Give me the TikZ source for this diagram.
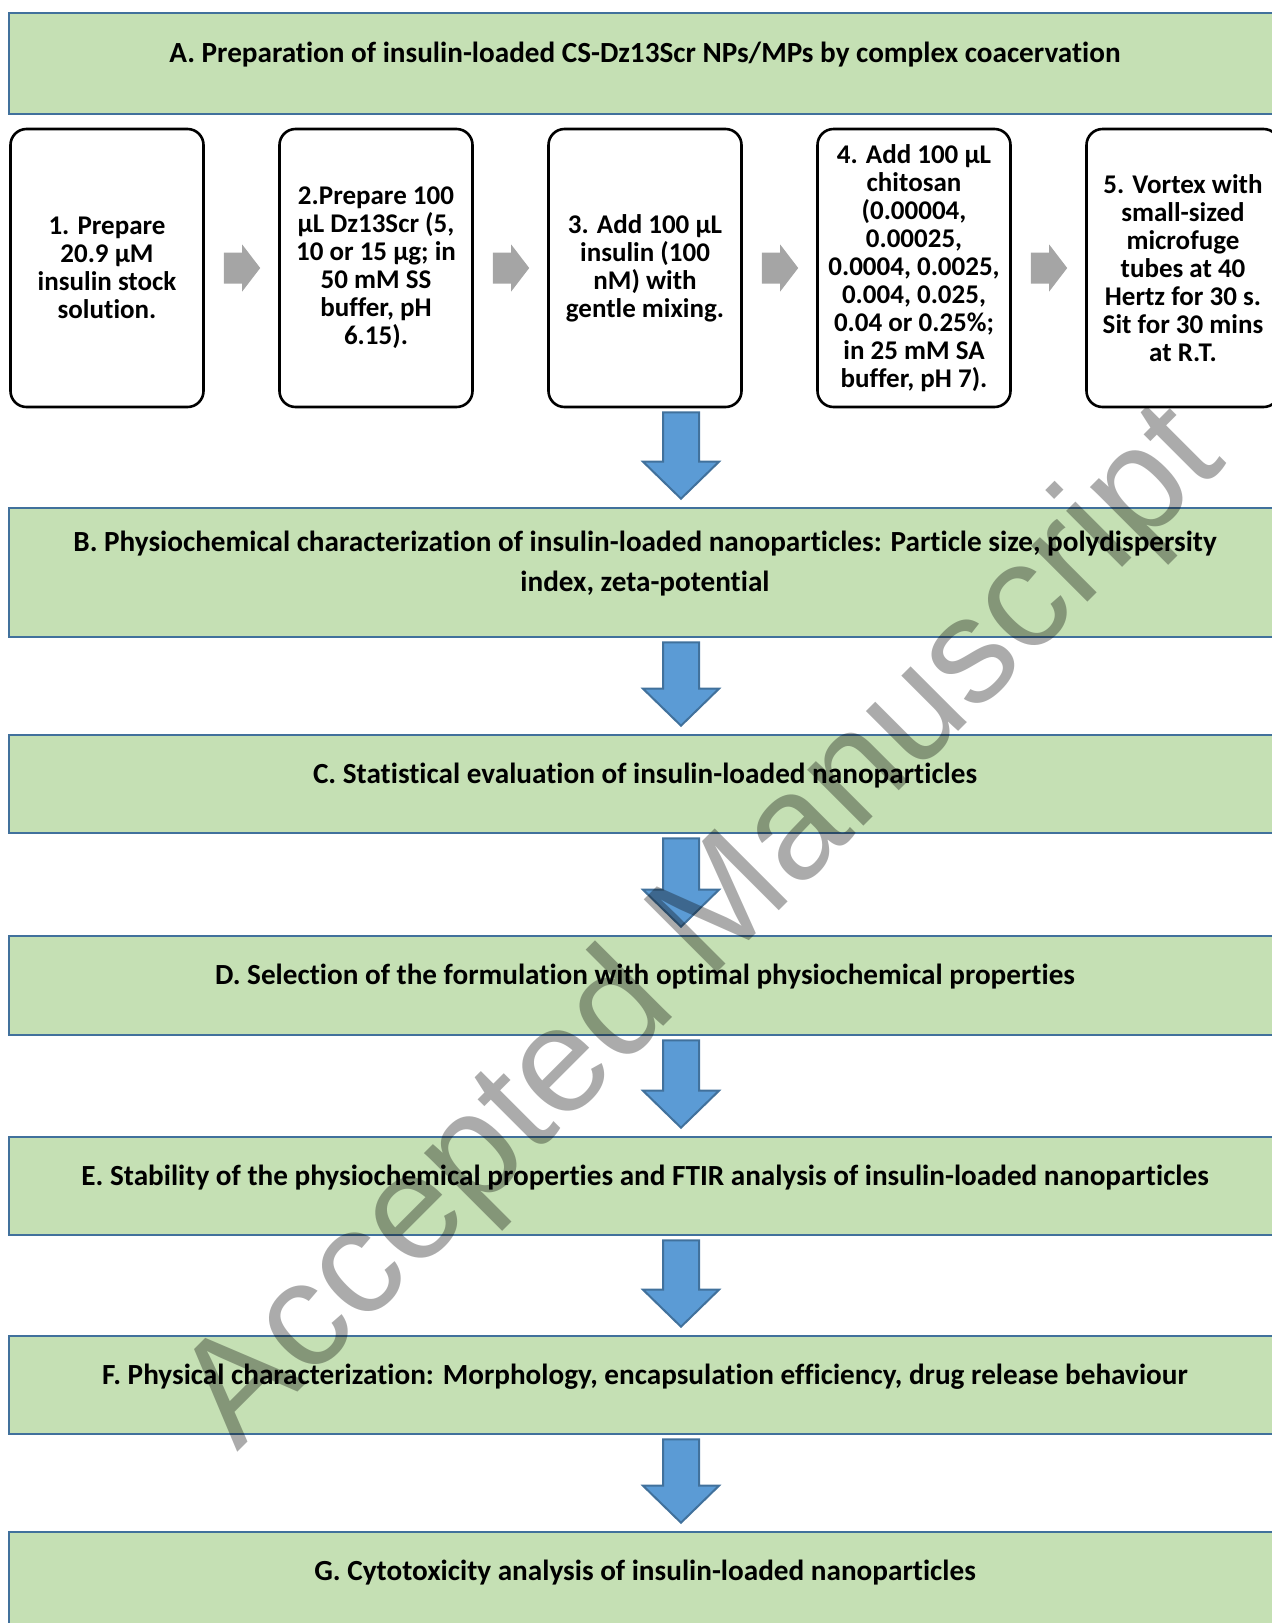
\documentclass[tikz,border=0pt]{standalone}
\usepackage{fontspec}
\setmainfont[Ligatures=NoCommon]{Carlito}
\newfontfamily\wmfont{Liberation Sans}
\usepackage{xcolor}
\definecolor{boxgreen}{HTML}{C5E0B4}
\definecolor{boxblue}{HTML}{41719C}
\definecolor{arrblue}{HTML}{5B9BD5}
\definecolor{arrgray}{HTML}{A5A5A5}
\usetikzlibrary{calc, positioning}
\tikzset{
  mainbox/.style ={rectangle, draw=boxblue, line width=1.3pt, fill=boxgreen, minimum width=636pt, inner sep=0pt},
  maintxt/.style ={font=\bfseries\fontsize{14.6}{20}\selectfont, align=center, anchor=base, inner sep=0pt},
  stepbox/.style ={rectangle, rounded corners=8pt, draw=black, line width=1.3pt, fill=white, align=center,
                   minimum width=96.5pt, minimum height=139pt, inner sep=0pt, font=\bfseries\fontsize{13.5}{14}\selectfont},
  bluearr/.style ={draw=boxblue, line width=1pt, fill=arrblue, line join=miter},
  grayarr/.style ={fill=arrgray},
  wmark/.style   ={font=\wmfont\fontsize{75}{75}\selectfont, text=black, text opacity=0.33, rotate=45,
                   anchor=base west, inner sep=0pt},
}

\begin{document}
\begin{tikzpicture}[x=0.5pt, y=-0.5pt]
  \useasboundingbox (0,0) rectangle (1272,1623);
  \clip (0,0) rectangle (1272,1623);
  % stage boxes
  \node[mainbox, minimum height=50.5pt] (prep) at (645,63.5) {};
  \node[mainbox, minimum height=64.5pt] (phys) at (645,572.5) {};
  \node[mainbox, minimum height=49pt] (stat) at (645,784) {};
  \node[mainbox, minimum height=49.5pt] (sel) at (645,985.5) {};
  \node[mainbox, minimum height=49pt] (stab) at (645,1186) {};
  \node[mainbox, minimum height=49pt] (char) at (645,1385) {};
  \node[mainbox, minimum height=49pt] (cyto) at (645,1581) {};
  \node[maintxt] (prept) at ($(prep.north)+(0,51)$) {A. Preparation of insulin-loaded CS-Dz13Scr NPs/MPs by complex coacervation};
  \node[maintxt] (physt) at ($(phys.north)+(0,85)$) {B. Physiochemical characterization of insulin-loaded nanoparticles: Particle size, polydispersity\\index, zeta-potential};
  \node[maintxt] (statt) at ($(stat.north)+(0,50)$) {C. Statistical evaluation of insulin-loaded nanoparticles};
  \node[maintxt] (selt) at ($(sel.north)+(0,50)$) {D. Selection of the formulation with optimal physiochemical properties};
  \node[maintxt] (stabt) at ($(stab.north)+(0,50)$) {E. Stability of the physiochemical properties and FTIR analysis of insulin-loaded nanoparticles};
  \node[maintxt] (chart) at ($(char.north)+(0,50)$) {F. Physical characterization: Morphology, encapsulation efficiency, drug release behaviour};
  \node[maintxt] (cytot) at ($(cyto.north)+(0,50)$) {G. Cytotoxicity analysis of insulin-loaded nanoparticles};
  % steps of part A
  \node[stepbox] (st1) at (107,268) {1. Prepare\\20.9 µM\\insulin stock\\solution.};
  \node[stepbox] (st2) at (376,268) {2.Prepare 100\\µL Dz13Scr (5,\\10 or 15 µg; in\\50 mM SS\\buffer, pH\\6.15).};
  \node[stepbox] (st3) at (645,268) {3. Add 100 µL\\insulin (100\\nM) with\\gentle mixing.};
  \node[stepbox] (st4) at (914,268) {4. Add 100 µL\\chitosan\\(0.00004,\\0.00025,\\0.0004, 0.0025,\\0.004, 0.025,\\0.04 or 0.25\%;\\in 25 mM SA\\buffer, pH 7).};
  \node[stepbox] (st5) at (1183,268) {5. Vortex with\\small-sized\\microfuge\\tubes at 40\\Hertz for 30 s.\\Sit for 30 mins\\at R.T.};
  \foreach \a/\b in {st1/st2, st2/st3, st3/st4, st4/st5} {
    \coordinate (p) at ($(\a.east)+(19,0)$);
    \coordinate (q) at ($(\b.west)+(-18,0)$);
    \fill[grayarr] ($(p)+(0,-15.5)$) -- ($(q)+(-18,-15.5)$) -- ($(q)+(-18,-23.5)$) -- (q)
      -- ($(q)+(-18,23.5)$) -- ($(q)+(-18,15.5)$) -- ($(p)+(0,15.5)$) -- cycle;
  }
  % block arrows down the flow
  \coordinate (ax) at (681,0);
  \foreach \a/\b in {st3/phys, phys/stat, stat/sel, sel/stab, stab/char, char/cyto} {
    \coordinate (p) at ($(ax |- \a.south)+(0,4)$);
    \coordinate (q) at ($(ax |- \b.north)+(0,-8)$);
    \draw[bluearr] ($(p)+(-18,0)$) -- ($(q)+(-18,-37)$) -- ($(q)+(-38,-37)$) -- (q)
      -- ($(q)+(38,-37)$) -- ($(q)+(18,-37)$) -- ($(p)+(18,0)$) -- cycle;
  }
  \node[wmark] (wm) at (237,1453) {Accepted Manuscript};
\end{tikzpicture}
\end{document}
